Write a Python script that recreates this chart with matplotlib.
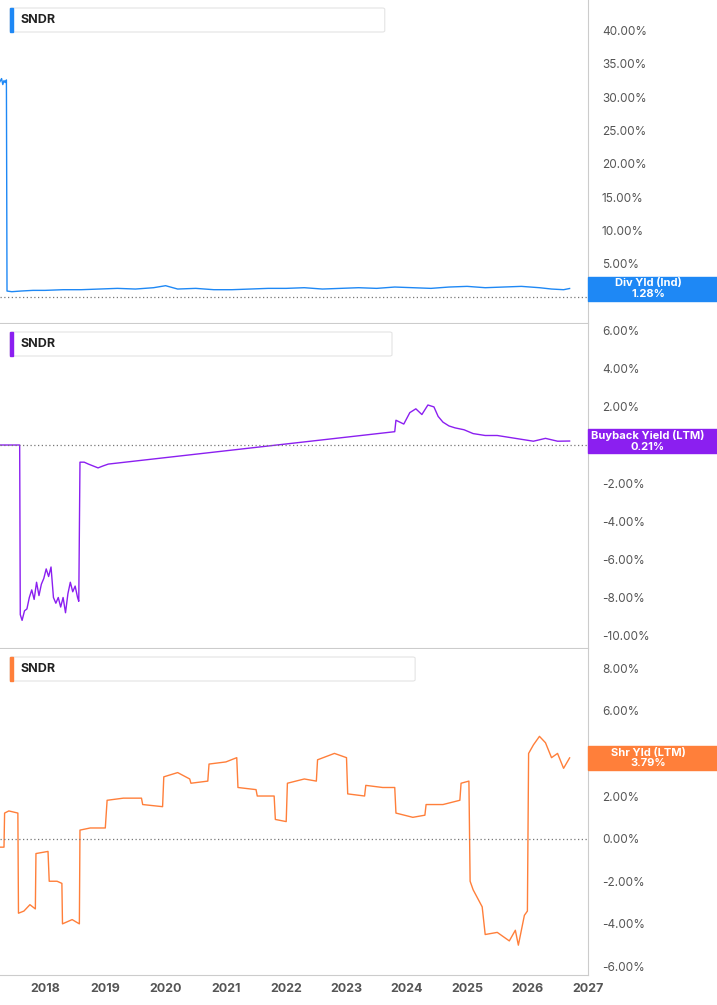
import matplotlib
matplotlib.use("Agg")
import matplotlib.pyplot as plt
from matplotlib.patches import Rectangle, FancyBboxPatch
from matplotlib.transforms import offset_copy

plt.rcParams['font.family'] = ['Inter', 'DejaVu Sans']

# ---------------- data (decimal years, percent) ----------------
div_x = [2017.25, 2017.28, 2017.30, 2017.32, 2017.34, 2017.36, 2017.37, 2017.45, 2017.6, 2017.8, 2018.0, 2018.3,
         2018.6, 2018.9, 2019.2, 2019.5, 2019.8, 2020.0, 2020.2, 2020.5, 2020.8, 2021.1, 2021.4, 2021.7,
         2022.0, 2022.3, 2022.6, 2022.9, 2023.2, 2023.5, 2023.8, 2024.1, 2024.4, 2024.7, 2025.0, 2025.3,
         2025.6, 2025.9, 2026.2, 2026.4, 2026.6, 2026.7]
div_y = [32.3, 32.8, 31.9, 32.5, 32.2, 32.6, 0.9, 0.8, 0.9, 1.0, 1.0, 1.1,
         1.1, 1.2, 1.3, 1.2, 1.4, 1.7, 1.2, 1.3, 1.1, 1.1, 1.2, 1.3,
         1.3, 1.4, 1.2, 1.3, 1.4, 1.3, 1.5, 1.4, 1.3, 1.5, 1.6, 1.4,
         1.5, 1.6, 1.4, 1.2, 1.1, 1.28]

bb_x = [2017.25, 2017.58, 2017.59, 2017.62, 2017.66, 2017.70, 2017.74, 2017.78, 2017.82, 2017.86, 2017.90,
        2017.94, 2017.98, 2018.02, 2018.06, 2018.10, 2018.14, 2018.18, 2018.22, 2018.26, 2018.30, 2018.34,
        2018.38, 2018.42, 2018.46, 2018.50, 2018.54, 2018.56, 2018.58, 2018.65, 2018.72, 2018.80, 2018.88,
        2018.96, 2019.05, 2023.8, 2023.82, 2023.95, 2024.05, 2024.15, 2024.25, 2024.35, 2024.45, 2024.52,
        2024.6, 2024.7, 2024.8, 2024.95, 2025.1, 2025.3, 2025.5, 2025.7, 2025.9, 2026.1, 2026.3, 2026.5, 2026.7]
bb_y = [0.0, 0.0, -8.9, -9.2, -8.7, -8.6, -8.0, -7.6, -8.1, -7.2, -7.9,
        -7.3, -7.0, -6.5, -6.9, -6.4, -8.0, -8.3, -8.0, -8.5, -8.0, -8.8,
        -7.8, -7.2, -7.7, -7.4, -8.0, -8.2, -0.9, -0.9, -1.0, -1.1, -1.2,
        -1.1, -1.0, 0.7, 1.3, 1.1, 1.7, 1.9, 1.6, 2.1, 2.0, 1.5,
        1.2, 1.0, 0.9, 0.8, 0.6, 0.5, 0.5, 0.4, 0.3, 0.2, 0.35, 0.2, 0.21]

sh_x = [2017.25, 2017.32, 2017.33, 2017.40, 2017.55, 2017.56, 2017.65, 2017.75, 2017.84, 2017.85, 2018.05,
        2018.07, 2018.20, 2018.28, 2018.29, 2018.45, 2018.57, 2018.58, 2018.75, 2019.0, 2019.03, 2019.3,
        2019.6, 2019.62, 2019.95, 2019.97, 2020.2, 2020.4, 2020.42, 2020.7, 2020.72, 2021.0, 2021.18,
        2021.2, 2021.5, 2021.52, 2021.8, 2021.82, 2022.0, 2022.02, 2022.3, 2022.5, 2022.52, 2022.8,
        2023.0, 2023.02, 2023.3, 2023.32, 2023.6, 2023.8, 2023.82, 2024.1, 2024.3, 2024.32, 2024.6,
        2024.88, 2024.9, 2025.03, 2025.05, 2025.1, 2025.25, 2025.3, 2025.5, 2025.7, 2025.8, 2025.85,
        2025.95, 2026.0, 2026.02, 2026.1, 2026.2, 2026.3, 2026.4, 2026.5, 2026.6, 2026.7]
sh_y = [-0.4, -0.4, 1.2, 1.3, 1.2, -3.5, -3.4, -3.1, -3.3, -0.7, -0.6,
        -2.0, -2.0, -2.1, -4.0, -3.8, -4.0, 0.4, 0.5, 0.5, 1.8, 1.9,
        1.9, 1.6, 1.5, 2.9, 3.1, 2.8, 2.6, 2.7, 3.5, 3.6, 3.8,
        2.4, 2.3, 2.0, 2.0, 0.9, 0.8, 2.6, 2.8, 2.7, 3.7, 4.0,
        3.8, 2.1, 2.0, 2.5, 2.4, 2.4, 1.2, 1.0, 1.1, 1.6, 1.6,
        1.8, 2.6, 2.7, -2.0, -2.4, -3.2, -4.5, -4.4, -4.8, -4.3, -5.0,
        -3.6, -3.4, 4.0, 4.4, 4.8, 4.5, 3.8, 4.0, 3.3, 3.79]

years = [2018, 2019, 2020, 2021, 2022, 2023, 2024, 2025, 2026, 2027]
div_ticks = [0, 5, 10, 15, 20, 25, 30, 35, 40]
bb_ticks = [-10, -8, -6, -4, -2, 0, 2, 4, 6]
sh_ticks = [-6, -4, -2, 0, 2, 4, 6, 8]

BLUE = '#1e88f5'
PURPLE = '#8b1ff0'
ORANGE = '#ff7f3a'

W, H = 717, 1005
fig = plt.figure(figsize=(W / 100, H / 100), dpi=100)
fig.patch.set_facecolor('white')
renderer = fig.canvas.get_renderer()

XL = (2018 - 45 / 60.3, 2018 + (588 - 45) / 60.3)

def add_panel(top, bottom, ylim, ticks, x, y, color, legend_name, last, box_label):
    ph = bottom - top
    ax = fig.add_axes([0, 1 - bottom / H, 588 / W, ph / H])
    ax.plot(x, y, color=color, lw=1.0)
    ax.axhline(0, color='#777777', lw=0.9, ls=(0, (1, 2)))
    ax.set_xlim(*XL)
    ax.set_ylim(*ylim)
    ax.yaxis.tick_right()
    ax.set_yticks(ticks)
    ax.set_yticklabels([f'{t:.2f}%' for t in ticks])
    ax.tick_params(axis='y', length=0, pad=10, labelsize=8.5, labelcolor='#555555')
    ax.set_xticks(years)
    ax.tick_params(axis='x', length=0, labelbottom=False)
    for s in ['top', 'left']:
        ax.spines[s].set_visible(False)
    ax.spines['right'].set_color('#cccccc')
    ax.spines['bottom'].set_color('#cccccc')
    # legend box (pixel-based)
    ly = 1 - 20 / ph
    t1 = ax.text(20 / 588, ly, 'SNDR', transform=ax.transAxes, fontsize=9, fontweight='bold',
                 color='#222222', va='center', ha='left')
    parts = [('Schneider National, Inc.', 'bold'), (legend_name, 'normal'), (f'{last:.2f}%', 'bold')]
    prev = t1
    for s, w in parts:
        ext = prev.get_window_extent(renderer)
        xa = ax.transAxes.inverted().transform((ext.x1 + 7, 0))[0]
        prev = ax.text(xa, ly, s, transform=ax.transAxes, fontsize=9, fontweight=w,
                       color='#222222', va='center', ha='left')
    ext = prev.get_window_extent(renderer)
    x_end = ax.transAxes.inverted().transform((ext.x1 + 8, 0))[0]
    ax.add_patch(FancyBboxPatch((10 / 588, 1 - 32 / ph), x_end - 10 / 588, 24 / ph,
                                boxstyle='round,pad=0,rounding_size=0.004', transform=ax.transAxes,
                                fc='white', ec='#e4e4e4', lw=0.8, zorder=3, clip_on=False))
    ax.add_patch(Rectangle((10 / 588, 1 - 32 / ph), 3 / 588, 24 / ph,
                           transform=ax.transAxes, color=color, clip_on=False, zorder=5))
    t1.set_zorder(6)
    # right value box
    y0, y1 = ylim
    frac = (last - y0) / (y1 - y0)
    ax.add_patch(Rectangle((1.0, frac - 12 / ph), 129 / 588, 24 / ph,
                           transform=ax.transAxes, color=color, clip_on=False, zorder=5))
    ax.text(1.0 + 60 / 588, frac, box_label + f'\n{last:.2f}%', transform=ax.transAxes,
            ha='center', va='center', fontsize=8, fontweight='bold', color='white', linespacing=1.05,
            clip_on=False, zorder=6)
    # hide tick labels covered by the value box
    for t, lab in zip(ticks, ax.get_yticklabels()):
        if abs((t - y0) / (y1 - y0) - frac) * ph < 12:
            lab.set_visible(False)
    return ax

a1 = add_panel(0, 323, (-3.9, 44.6), div_ticks, div_x, div_y, BLUE, 'Dividend Yield (Ind)', 1.28, 'Div Yld (Ind)')
a2 = add_panel(324, 648, (-10.65, 6.35), bb_ticks, bb_x, bb_y, PURPLE, 'Buyback Yield (LTM)', 0.21, 'Buyback Yield (LTM)')
a3 = add_panel(649, 975, (-6.4, 8.9), sh_ticks, sh_x, sh_y, ORANGE, 'Shareholder Yield (LTM)', 3.79, 'Shr Yld (LTM)')
a3.tick_params(axis='x', labelbottom=True, labelsize=9, labelcolor='#555555', pad=6)
for l in a3.get_xticklabels():
    l.set_fontweight('bold')

fig.savefig('out.png', dpi=100, facecolor='white')
